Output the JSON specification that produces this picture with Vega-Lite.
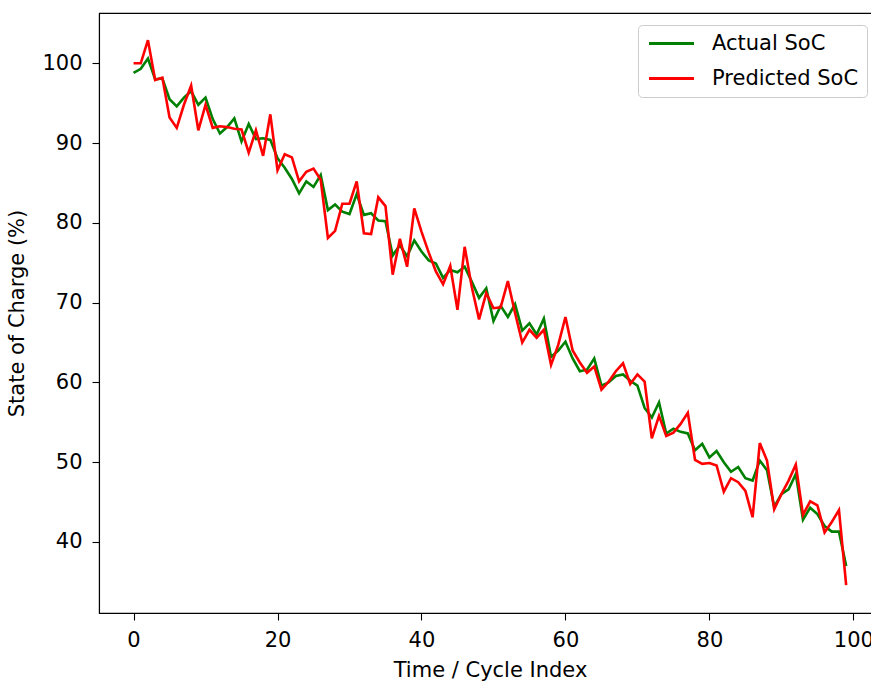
{
  "$schema": "https://vega.github.io/schema/vega-lite/v6.json",
  "width": 780,
  "height": 600,
  "autosize": {"type": "none"},
  "padding": {"left": 99, "top": 13, "right": -8, "bottom": 70},
  "background": "white",
  "config": {
    "font": "DejaVu Sans",
    "view": {"stroke": "black", "strokeWidth": 1.1},
    "axis": {"grid": false, "domainColor": "black", "tickColor": "black", "labelColor": "black", "titleColor": "black", "labelFontSize": 21, "titleFontSize": 21, "titleFontWeight": "normal", "tickSize": 7, "domainWidth": 1.1, "tickWidth": 1.1}
  },
  "data": {
    "values": [
      {"i":0,"Actual SoC":98.8,"Predicted SoC":100.0},
      {"i":1,"Actual SoC":99.3,"Predicted SoC":100.0},
      {"i":2,"Actual SoC":100.6,"Predicted SoC":102.9},
      {"i":3,"Actual SoC":98.0,"Predicted SoC":97.9},
      {"i":4,"Actual SoC":98.1,"Predicted SoC":98.2},
      {"i":5,"Actual SoC":95.5,"Predicted SoC":93.2},
      {"i":6,"Actual SoC":94.6,"Predicted SoC":91.9},
      {"i":7,"Actual SoC":95.7,"Predicted SoC":94.8},
      {"i":8,"Actual SoC":96.5,"Predicted SoC":97.2},
      {"i":9,"Actual SoC":94.8,"Predicted SoC":91.6},
      {"i":10,"Actual SoC":95.7,"Predicted SoC":94.8},
      {"i":11,"Actual SoC":93.0,"Predicted SoC":91.9},
      {"i":12,"Actual SoC":91.2,"Predicted SoC":92.1},
      {"i":13,"Actual SoC":92.0,"Predicted SoC":92.0},
      {"i":14,"Actual SoC":93.1,"Predicted SoC":91.8},
      {"i":15,"Actual SoC":90.2,"Predicted SoC":91.7},
      {"i":16,"Actual SoC":92.4,"Predicted SoC":88.8},
      {"i":17,"Actual SoC":90.5,"Predicted SoC":91.6},
      {"i":18,"Actual SoC":90.6,"Predicted SoC":88.4},
      {"i":19,"Actual SoC":90.4,"Predicted SoC":93.6},
      {"i":20,"Actual SoC":88.1,"Predicted SoC":86.6},
      {"i":21,"Actual SoC":86.9,"Predicted SoC":88.6},
      {"i":22,"Actual SoC":85.5,"Predicted SoC":88.2},
      {"i":23,"Actual SoC":83.7,"Predicted SoC":85.2},
      {"i":24,"Actual SoC":85.2,"Predicted SoC":86.4},
      {"i":25,"Actual SoC":84.5,"Predicted SoC":86.8},
      {"i":26,"Actual SoC":86.0,"Predicted SoC":85.4},
      {"i":27,"Actual SoC":81.6,"Predicted SoC":78.1},
      {"i":28,"Actual SoC":82.3,"Predicted SoC":79.0},
      {"i":29,"Actual SoC":81.4,"Predicted SoC":82.4},
      {"i":30,"Actual SoC":81.1,"Predicted SoC":82.4},
      {"i":31,"Actual SoC":83.6,"Predicted SoC":85.2},
      {"i":32,"Actual SoC":81.0,"Predicted SoC":78.7},
      {"i":33,"Actual SoC":81.2,"Predicted SoC":78.6},
      {"i":34,"Actual SoC":80.3,"Predicted SoC":83.2},
      {"i":35,"Actual SoC":80.2,"Predicted SoC":82.1},
      {"i":36,"Actual SoC":75.9,"Predicted SoC":73.5},
      {"i":37,"Actual SoC":77.2,"Predicted SoC":78.0},
      {"i":38,"Actual SoC":75.8,"Predicted SoC":74.5},
      {"i":39,"Actual SoC":77.8,"Predicted SoC":81.8},
      {"i":40,"Actual SoC":76.4,"Predicted SoC":78.9},
      {"i":41,"Actual SoC":75.3,"Predicted SoC":76.3},
      {"i":42,"Actual SoC":74.9,"Predicted SoC":73.9},
      {"i":43,"Actual SoC":73.1,"Predicted SoC":72.3},
      {"i":44,"Actual SoC":74.1,"Predicted SoC":74.6},
      {"i":45,"Actual SoC":73.8,"Predicted SoC":69.1},
      {"i":46,"Actual SoC":74.5,"Predicted SoC":77.0},
      {"i":47,"Actual SoC":72.6,"Predicted SoC":71.9},
      {"i":48,"Actual SoC":70.6,"Predicted SoC":67.9},
      {"i":49,"Actual SoC":71.8,"Predicted SoC":71.2},
      {"i":50,"Actual SoC":67.7,"Predicted SoC":69.3},
      {"i":51,"Actual SoC":69.6,"Predicted SoC":69.4},
      {"i":52,"Actual SoC":68.2,"Predicted SoC":72.7},
      {"i":53,"Actual SoC":69.8,"Predicted SoC":68.7},
      {"i":54,"Actual SoC":66.5,"Predicted SoC":65.0},
      {"i":55,"Actual SoC":67.4,"Predicted SoC":66.6},
      {"i":56,"Actual SoC":66.0,"Predicted SoC":65.6},
      {"i":57,"Actual SoC":68.0,"Predicted SoC":66.6},
      {"i":58,"Actual SoC":63.2,"Predicted SoC":62.2},
      {"i":59,"Actual SoC":64.0,"Predicted SoC":64.7},
      {"i":60,"Actual SoC":65.1,"Predicted SoC":68.2},
      {"i":61,"Actual SoC":63.0,"Predicted SoC":64.0},
      {"i":62,"Actual SoC":61.4,"Predicted SoC":62.5},
      {"i":63,"Actual SoC":61.6,"Predicted SoC":61.2},
      {"i":64,"Actual SoC":63.0,"Predicted SoC":62.0},
      {"i":65,"Actual SoC":59.6,"Predicted SoC":59.1},
      {"i":66,"Actual SoC":60.0,"Predicted SoC":60.1},
      {"i":67,"Actual SoC":60.8,"Predicted SoC":61.4},
      {"i":68,"Actual SoC":61.0,"Predicted SoC":62.4},
      {"i":69,"Actual SoC":60.2,"Predicted SoC":59.8},
      {"i":70,"Actual SoC":59.6,"Predicted SoC":61.0},
      {"i":71,"Actual SoC":56.8,"Predicted SoC":60.1},
      {"i":72,"Actual SoC":55.6,"Predicted SoC":53.0},
      {"i":73,"Actual SoC":57.5,"Predicted SoC":55.8},
      {"i":74,"Actual SoC":53.6,"Predicted SoC":53.3},
      {"i":75,"Actual SoC":54.2,"Predicted SoC":53.7},
      {"i":76,"Actual SoC":53.8,"Predicted SoC":54.8},
      {"i":77,"Actual SoC":53.6,"Predicted SoC":56.2},
      {"i":78,"Actual SoC":51.5,"Predicted SoC":50.3},
      {"i":79,"Actual SoC":52.3,"Predicted SoC":49.8},
      {"i":80,"Actual SoC":50.6,"Predicted SoC":49.9},
      {"i":81,"Actual SoC":51.4,"Predicted SoC":49.6},
      {"i":82,"Actual SoC":50.0,"Predicted SoC":46.3},
      {"i":83,"Actual SoC":48.8,"Predicted SoC":48.0},
      {"i":84,"Actual SoC":49.4,"Predicted SoC":47.5},
      {"i":85,"Actual SoC":48.0,"Predicted SoC":46.4},
      {"i":86,"Actual SoC":47.7,"Predicted SoC":43.1},
      {"i":87,"Actual SoC":50.2,"Predicted SoC":52.4},
      {"i":88,"Actual SoC":49.0,"Predicted SoC":50.2},
      {"i":89,"Actual SoC":44.4,"Predicted SoC":44.1},
      {"i":90,"Actual SoC":46.0,"Predicted SoC":46.0},
      {"i":91,"Actual SoC":46.6,"Predicted SoC":47.7},
      {"i":92,"Actual SoC":48.5,"Predicted SoC":49.7},
      {"i":93,"Actual SoC":42.8,"Predicted SoC":43.4},
      {"i":94,"Actual SoC":44.3,"Predicted SoC":45.1},
      {"i":95,"Actual SoC":43.5,"Predicted SoC":44.6},
      {"i":96,"Actual SoC":42.0,"Predicted SoC":41.2},
      {"i":97,"Actual SoC":41.3,"Predicted SoC":42.5},
      {"i":98,"Actual SoC":41.3,"Predicted SoC":44.0},
      {"i":99,"Actual SoC":37.0,"Predicted SoC":34.6}
    ]
  },
  "transform": [{"fold": ["Actual SoC", "Predicted SoC"], "as": ["series", "soc"]}],
  "mark": {"type": "line", "strokeWidth": 2.6, "clip": true},
  "encoding": {
    "x": {"field": "i", "type": "quantitative", "scale": {"domain": [-4.8, 103.56], "nice": false, "zero": false},
      "axis": {"values": [0, 20, 40, 60, 80, 100], "title": "Time / Cycle Index", "labelPadding": 9, "titlePadding": 9, "titleX": 391}},
    "y": {"field": "soc", "type": "quantitative", "scale": {"domain": [31.1, 106.3], "nice": false, "zero": false},
      "axis": {"values": [40, 50, 60, 70, 80, 90, 100], "title": "State of Charge (%)", "labelPadding": 10, "titlePadding": 14}},
    "color": {"field": "series", "type": "nominal",
      "scale": {"domain": ["Actual SoC", "Predicted SoC"], "range": ["green", "red"]},
      "legend": {"title": null, "orient": "none", "legendX": 539, "legendY": 12,
        "symbolType": "M-1,0H5", "symbolSize": 225, "symbolStrokeWidth": 2.8,
        "labelFontSize": 21, "labelColor": "black", "labelOffset": 45, "rowPadding": 13,
        "padding": 8, "strokeColor": "#cccccc", "fillColor": "white", "cornerRadius": 4}}
  }
}
